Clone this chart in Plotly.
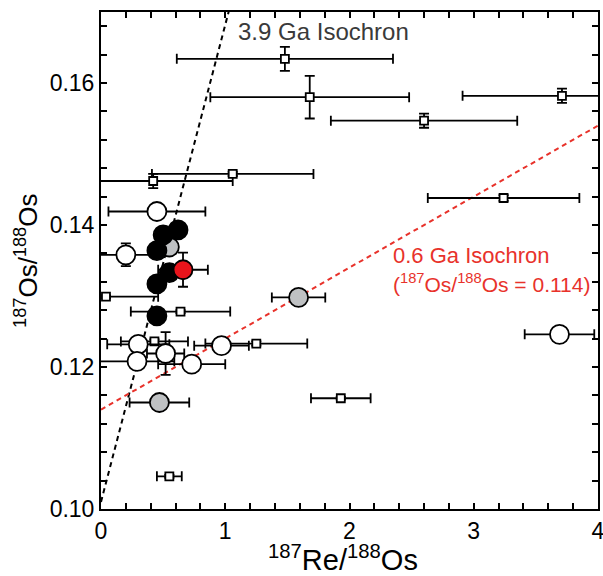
import plotly.graph_objects as go

# Open squares
sq_x = [1.48, 1.68, 2.60, 3.71, 1.06, 0.42, 3.24, 0.04, 0.64, 0.43, 1.25, 1.93, 0.55]
sq_y = [0.1634, 0.1580, 0.1547, 0.1582, 0.1472, 0.1462, 0.1438, 0.1299, 0.1278, 0.1236, 0.1233, 0.1156, 0.1046]
sq_xe = [0.87, 0.80, 0.75, 0.80, 0.65, 0.64, 0.61, 0.42, 0.40, 0.27, 0.41, 0.24, 0.10]
sq_ye = [0.0017, 0.0030, 0.0010, 0.0010, 0.0003, 0.0010, 0.0004, 0.0002, 0.0002, 0.0003, 0.0003, 0.0002, 0.0002]

# Open circles
oc_x = [0.45, 0.20, 0.30, 0.52, 0.29, 0.73, 0.97, 3.69]
oc_y = [0.1419, 0.1358, 0.1232, 0.1219, 0.1208, 0.1204, 0.1230, 0.1246]
oc_xe = [0.39, 0.24, 0.25, 0.15, 0.30, 0.27, 0.22, 0.28]
oc_ye = [0.0, 0.0016, 0.0, 0.0030, 0.0, 0.0, 0.0, 0.0]

# Gray circles
gc_x = [0.55, 1.59, 0.47]
gc_y = [0.1369, 0.1298, 0.1150]
gc_xe = [0.0, 0.215, 0.24]

# Black circles
bc_x = [0.62, 0.50, 0.45, 0.55, 0.45, 0.45]
bc_y = [0.1393, 0.1386, 0.1364, 0.1333, 0.1317, 0.1272]

# Red circle
rc_x = [0.66]
rc_y = [0.1337]
rc_xe = [0.20]
rc_ye = [0.0024]

# Isochrons (slope, intercept)
iso_old = (0.0672, 0.1010)
iso_young = (0.0100, 0.1140)
iso_x = [0.0, 4.0]

FONT = "Liberation Sans, Arial"

fig = go.Figure()

fig.add_trace(go.Scatter(x=iso_x, y=[iso_old[1] + iso_old[0] * v for v in iso_x], mode="lines",
                         line=dict(color="black", width=2, dash="5px,4px"), showlegend=False))
fig.add_trace(go.Scatter(x=iso_x, y=[iso_young[1] + iso_young[0] * v for v in iso_x], mode="lines",
                         line=dict(color="#e8322b", width=2, dash="5px,4px"), showlegend=False))

eb = dict(color="black", thickness=1.8, width=5)

fig.add_trace(go.Scatter(x=sq_x, y=sq_y, mode="markers",
                         marker=dict(symbol="square", size=8, color="white", line=dict(color="black", width=1.8)),
                         error_x=dict(type="data", array=sq_xe, **eb),
                         error_y=dict(type="data", array=sq_ye, **eb), showlegend=False))
fig.add_trace(go.Scatter(x=oc_x, y=oc_y, mode="markers",
                         marker=dict(symbol="circle", size=19, color="white", line=dict(color="black", width=1.8)),
                         error_x=dict(type="data", array=oc_xe, **eb),
                         error_y=dict(type="data", array=oc_ye, **eb), showlegend=False))
fig.add_trace(go.Scatter(x=gc_x, y=gc_y, mode="markers",
                         marker=dict(symbol="circle", size=19, color="#bfc1c3", line=dict(color="black", width=1.8)),
                         error_x=dict(type="data", array=gc_xe, **eb), showlegend=False))
fig.add_trace(go.Scatter(x=bc_x, y=bc_y, mode="markers",
                         marker=dict(symbol="circle", size=19, color="black", line=dict(color="black", width=1.8)),
                         showlegend=False))
fig.add_trace(go.Scatter(x=rc_x, y=rc_y, mode="markers",
                         marker=dict(symbol="circle", size=19, color="#e8141b", line=dict(color="black", width=1.8)),
                         error_x=dict(type="data", array=rc_xe, **eb),
                         error_y=dict(type="data", array=rc_ye, **eb), showlegend=False))

fig.add_annotation(x=1.09, y=0.1673, xref="x", yref="y", text="3.9 Ga Isochron", showarrow=False,
                   xanchor="left", yanchor="middle", font=dict(size=24, color="#3a3a3a", family=FONT))
fig.add_annotation(x=2.33, y=0.1357, xref="x", yref="y", text="0.6 Ga Isochron", showarrow=False,
                   xanchor="left", yanchor="middle", font=dict(size=22, color="#e8322b", family=FONT))
fig.add_annotation(x=2.33, y=0.1318, xref="x", yref="y",
                   text="(<sup>187</sup>Os/<sup>188</sup>Os = 0.114)", showarrow=False,
                   xanchor="left", yanchor="middle", font=dict(size=21, color="#e8322b", family=FONT))

# axis titles as annotations
fig.add_annotation(x=-0.15, y=0.5, xref="paper", yref="paper",
                   text="<sup>187</sup>Os/<sup>188</sup>Os", textangle=-90, showarrow=False,
                   xanchor="center", yanchor="middle", font=dict(size=26, color="black", family=FONT))
fig.add_annotation(x=0.486, y=-0.098, xref="paper", yref="paper",
                   text="<sup>187</sup>Re/<sup>188</sup>Os", showarrow=False,
                   xanchor="center", yanchor="middle", font=dict(size=29, color="black", family=FONT))

axis_common = dict(showline=True, linecolor="black", linewidth=2, mirror="ticks", ticks="inside",
                   ticklen=6, tickwidth=1.5, tickcolor="black", showgrid=False, zeroline=False,
                   automargin=False, ticklabeloverflow="allow",
                   tickfont=dict(size=23, color="black", family=FONT))

fig.update_xaxes(range=[0, 4], tickvals=[0, 1, 2, 3, 4], ticktext=["0", "1", "2", "3", "4"],
                 minor=dict(dtick=0.2, ticks="inside", ticklen=6, tickwidth=1.5, tickcolor="black"),
                 **axis_common)
fig.update_yaxes(range=[0.10, 0.17], tickvals=[0.10, 0.12, 0.14, 0.16],
                 ticktext=["0.10", "0.12", "0.14", "0.16"],
                 minor=dict(dtick=0.004, tick0=0.10, ticks="inside", ticklen=6, tickwidth=1.5, tickcolor="black"),
                 **axis_common)

fig.update_layout(width=603, height=576, margin=dict(l=101, r=5, t=12, b=67),
                  plot_bgcolor="white", paper_bgcolor="white")

fig.write_html("out.html")
